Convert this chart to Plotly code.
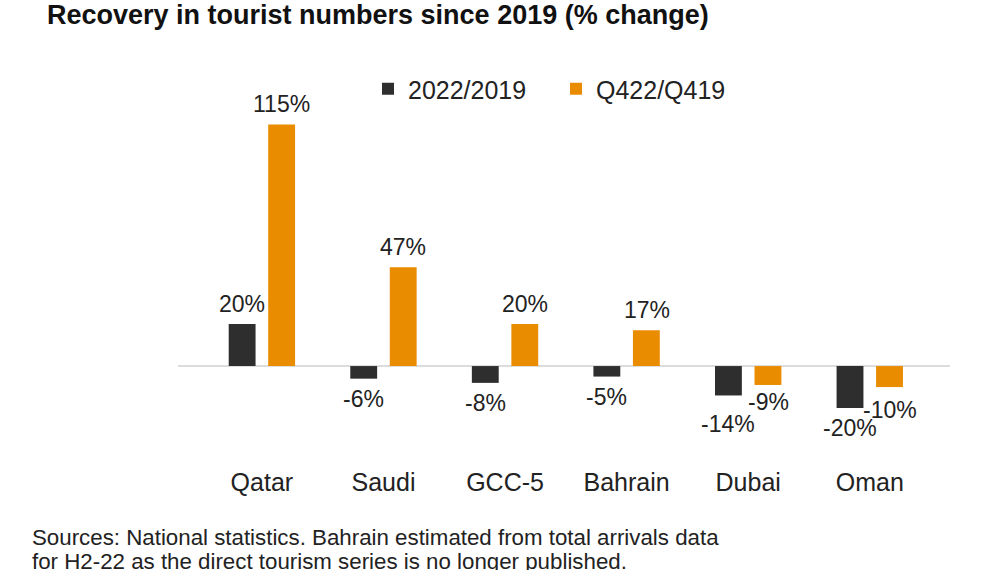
import plotly.graph_objects as go

categories = ["Qatar", "Saudi", "GCC-5", "Bahrain", "Dubai", "Oman"]
series_names = ["2022/2019", "Q422/Q419"]
vals_2022 = [20, -6, -8, -5, -14, -20]
vals_q4 = [115, 47, 20, 17, -9, -10]
colors = ["#2e2e2e", "#ea8c00"]
source_lines = [
    "Sources: National statistics. Bahrain estimated from total arrivals data",
    "for H2-22 as the direct tourism series is no longer published.",
]

FONT = "Liberation Sans, Arial, Helvetica, sans-serif"

# extra vertical nudges (px) for labels that would collide
label_nudge = {("Dubai", 0): -9, ("Dubai", 1): 3, ("Oman", 1): -3}

fig = go.Figure()
for name, vals, col in zip(series_names, [vals_2022, vals_q4], colors):
    fig.add_trace(go.Bar(
        x=categories, y=vals, name=name,
        marker=dict(color=col, line=dict(width=0)),
        hoverinfo="skip",
    ))

# data labels
for si, vals in enumerate([vals_2022, vals_q4]):
    for c, v in zip(categories, vals):
        fig.add_annotation(
            x=c, y=v, text=f"{v}%", showarrow=False,
            xshift=-20 if si == 0 else 20,
            yshift=(20 if v > 0 else -20) + label_nudge.get((c, si), 0),
            font=dict(family=FONT, size=23, color="#222"),
            xanchor="center", yanchor="middle",
        )

PLOT_L, PLOT_W, PLOT_T, PLOT_H = 178, 772, 110, 355
for i, line in enumerate(source_lines):
    fig.add_annotation(
        xref="paper", yref="paper",
        x=(30 - PLOT_L) / PLOT_W, y=1 - (537 + 24 * i - PLOT_T) / PLOT_H,
        xanchor="left", yanchor="middle",
        text=line, showarrow=False, align="left",
        font=dict(family=FONT, size=22.3, color="#222"),
    )

fig.update_layout(
    width=1000, height=570,
    paper_bgcolor="white", plot_bgcolor="white",
    margin=dict(l=PLOT_L, r=1000 - PLOT_L - PLOT_W, t=PLOT_T, b=570 - PLOT_T - PLOT_H,
                autoexpand=False),
    title=dict(text="<b>Recovery in tourist numbers since 2019 (% change)</b>",
               x=0.047, xanchor="left", xref="container",
               y=1 - 15 / 570, yanchor="middle", yref="container",
               font=dict(family=FONT, size=27, color="#111")),
    bargap=0.35, bargroupgap=0.32,
    showlegend=True,
    legend=dict(orientation="h", xref="paper", yref="paper",
                x=(368 - PLOT_L) / PLOT_W, y=1 + (PLOT_T - 89) / PLOT_H,
                xanchor="left", yanchor="middle", entrywidth=143,
                font=dict(family=FONT, size=25, color="#222"),
                bgcolor="rgba(0,0,0,0)"),
    xaxis=dict(type="category", range=[-0.69, 5.66], showgrid=False,
               showline=False, ticks="", zeroline=False,
               tickfont=dict(family=FONT, size=25, color="#222")),
    yaxis=dict(range=[-47.1, 121.9], showgrid=False, showticklabels=False,
               zeroline=True, zerolinecolor="#dcdcdc", zerolinewidth=2,
               showline=False, ticks=""),
    font=dict(family=FONT),
)

fig.write_html("out.html", config={"displayModeBar": False},
               post_script="document.body.style.margin='0';")
